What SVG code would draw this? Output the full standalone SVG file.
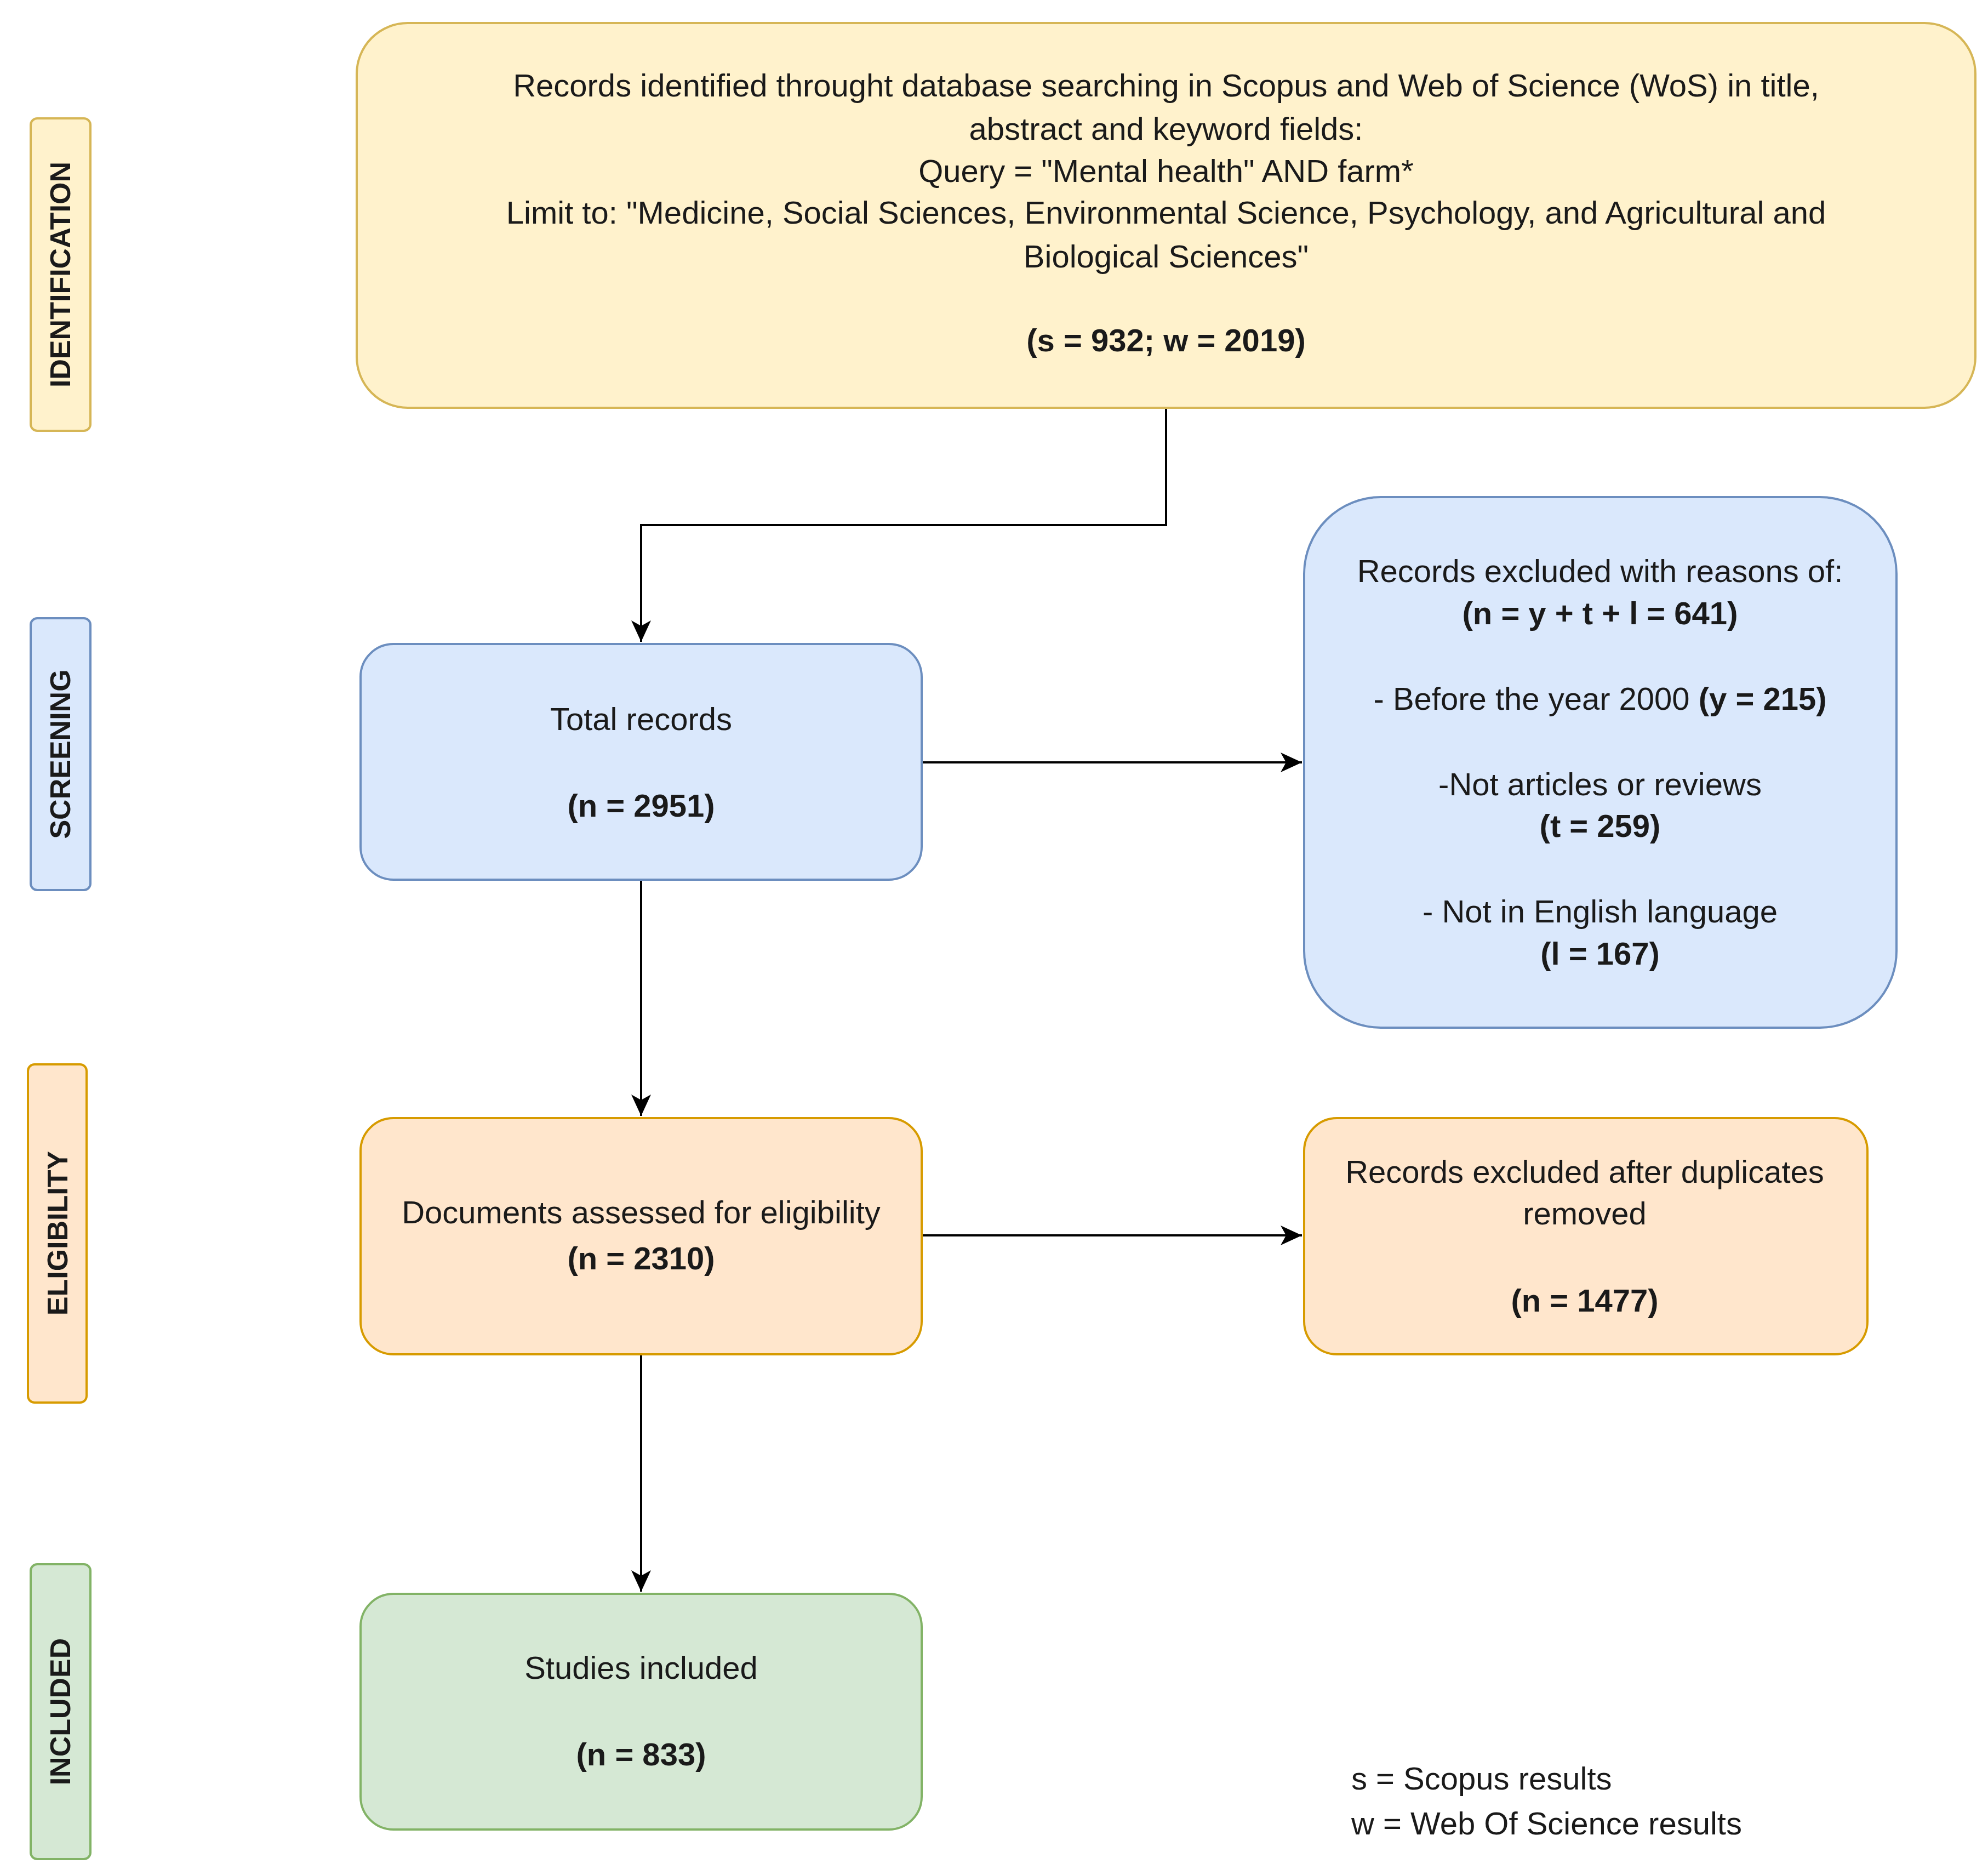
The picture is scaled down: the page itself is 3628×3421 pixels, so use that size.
<svg xmlns="http://www.w3.org/2000/svg" width="3628" height="3421" viewBox="0 0 3628 3421">
<style>
text{font-family:"Liberation Sans",Arial,sans-serif;font-size:58px;fill:#1a1a1a;text-anchor:middle}
.b{font-weight:bold}
.side{font-weight:bold;font-size:52px}
.y{fill:#fff2cc;stroke:#d6b656;stroke-width:4}
.bl{fill:#dae8fc;stroke:#6c8ebf;stroke-width:4}
.o{fill:#ffe6cc;stroke:#d79b00;stroke-width:4}
.g{fill:#d5e8d4;stroke:#82b366;stroke-width:4}
.c{fill:none;stroke:#000;stroke-width:4;marker-end:url(#a)}
</style>
<defs><marker id="a" markerWidth="10" markerHeight="10" refX="9" refY="5" orient="auto" markerUnits="userSpaceOnUse" viewBox="0 0 10 10" style="overflow:visible"><path d="M-30,-13 L9,5 L-30,23 L-20,5 Z" fill="#000"/></marker></defs>
<rect width="3628" height="3421" fill="#fff"/>
<g id="lbl-identification"><rect class="y" x="56" y="216" width="109" height="570" rx="12"/><text class="side" transform="translate(128,501) rotate(-90)">IDENTIFICATION</text></g>
<g id="lbl-screening"><rect class="bl" x="56" y="1128" width="109" height="496" rx="12"/><text class="side" transform="translate(128,1376) rotate(-90)">SCREENING</text></g>
<g id="lbl-eligibility"><rect class="o" x="51" y="1942" width="107" height="617" rx="12"/><text class="side" transform="translate(123,2250) rotate(-90)">ELIGIBILITY</text></g>
<g id="lbl-included"><rect class="g" x="56" y="2854" width="109" height="538" rx="12"/><text class="side" transform="translate(128,3123) rotate(-90)">INCLUDED</text></g>
<g id="connectors">
<path class="c" d="M2128,744 V958 H1170 V1171"/>
<path class="c" d="M1682,1391 H2376"/>
<path class="c" d="M1170,1605 V2036"/>
<path class="c" d="M1682,2254 H2376"/>
<path class="c" d="M1170,2471 V2904"/>
</g>
<g id="identified"><rect class="y" x="651" y="42" width="2954" height="702" rx="93"/>
<text x="2128" y="176">Records identified throught database searching in Scopus and Web of Science (WoS) in title,</text>
<text x="2128" y="255">abstract and keyword fields:</text>
<text x="2128" y="332">Query = "Mental health" AND farm*</text>
<text x="2128" y="408">Limit to: "Medicine, Social Sciences, Environmental Science, Psychology, and Agricultural and</text>
<text x="2128" y="488">Biological Sciences"</text>
<text class="b" x="2128" y="641">(s = 932; w = 2019)</text></g>
<g id="total"><rect class="bl" x="658" y="1175" width="1024" height="430" rx="60"/>
<text x="1170" y="1332">Total records</text><text class="b" x="1170" y="1490">(n = 2951)</text></g>
<g id="excluded"><rect class="bl" x="2380" y="907" width="1081" height="968" rx="140"/>
<text x="2920" y="1062">Records excluded with reasons of:</text>
<text class="b" x="2920" y="1139">(n = y + t + l = 641)</text>
<text x="2920" y="1295">- Before the year 2000 <tspan class="b">(y = 215)</tspan></text>
<text x="2920" y="1451">-Not articles or reviews</text>
<text class="b" x="2920" y="1527">(t = 259)</text>
<text x="2920" y="1683">- Not in English language</text>
<text class="b" x="2920" y="1760">(l = 167)</text></g>
<g id="eligibility"><rect class="o" x="658" y="2040" width="1024" height="431" rx="60"/>
<text x="1170" y="2232">Documents assessed for eligibility</text><text class="b" x="1170" y="2316">(n = 2310)</text></g>
<g id="duplicates"><rect class="o" x="2380" y="2040" width="1028" height="431" rx="60"/>
<text x="2892" y="2158">Records excluded after duplicates</text><text x="2892" y="2234">removed</text><text class="b" x="2892" y="2393">(n = 1477)</text></g>
<g id="included"><rect class="g" x="658" y="2908" width="1024" height="430" rx="60"/>
<text x="1170" y="3063">Studies included</text><text class="b" x="1170" y="3221">(n = 833)</text></g>
<g id="legend"><text x="2466" y="3265" style="text-anchor:start">s = Scopus results</text><text x="2466" y="3347" style="text-anchor:start">w = Web Of Science results</text></g>
</svg>
